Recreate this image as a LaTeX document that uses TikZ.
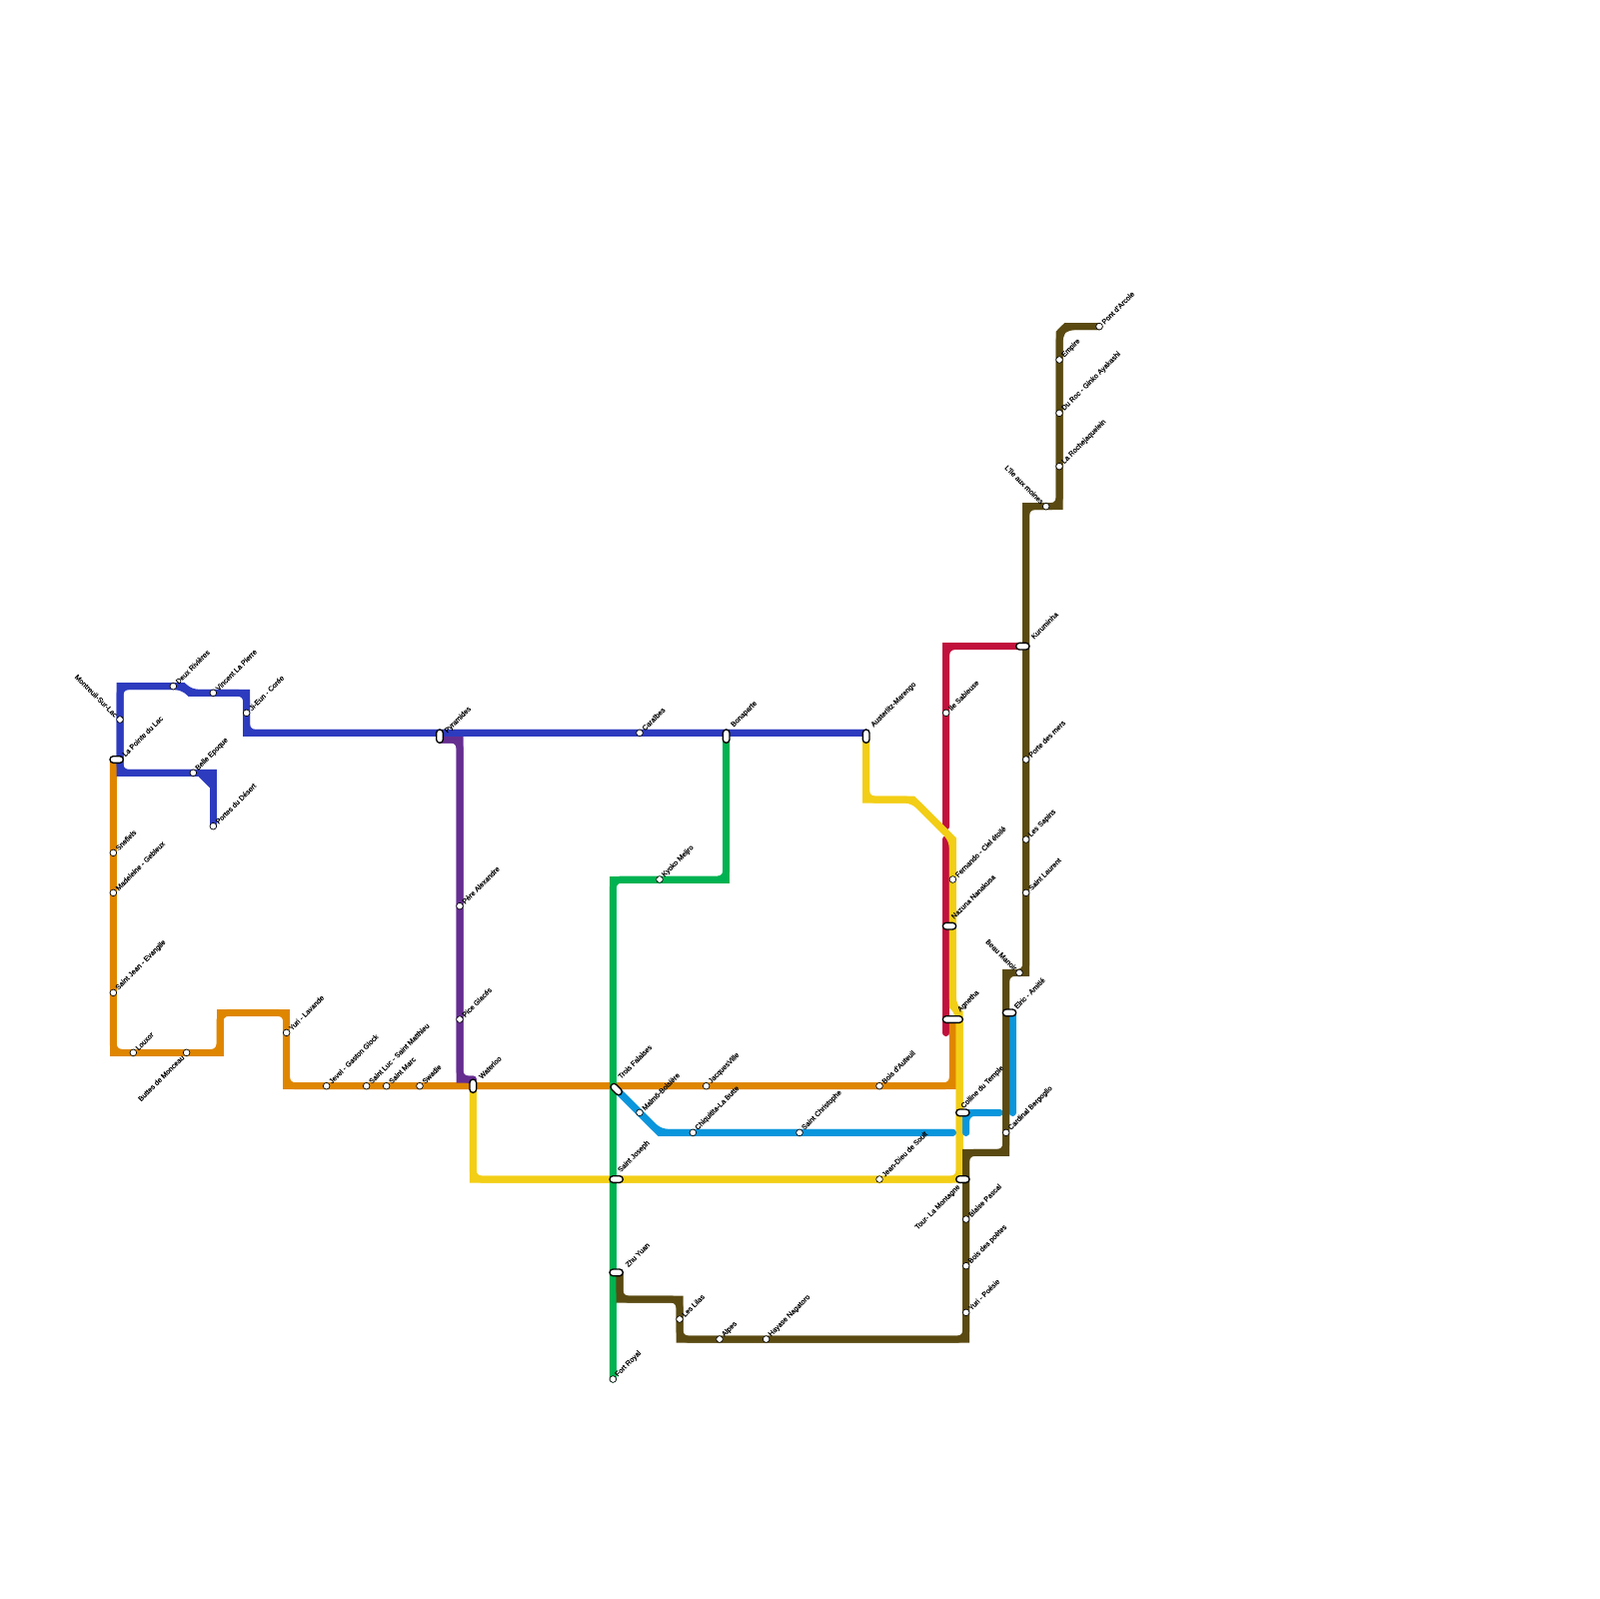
\documentclass[tikz,border=0pt]{standalone}
\usepackage{fontspec}
\setmainfont[FakeBold=0.35]{Liberation Sans}
\usetikzlibrary{backgrounds}
\definecolor{metroorange}{HTML}{DF8600}
\definecolor{metroblue}{HTML}{2D3BBF}
\definecolor{metropurple}{HTML}{662D91}
\definecolor{metrogreen}{HTML}{00B251}
\definecolor{metrobrown}{HTML}{5A4A12}
\definecolor{metroyellow}{HTML}{F3CE16}
\definecolor{metrored}{HTML}{C1103C}
\definecolor{metrocyan}{HTML}{0A96DC}
\newcommand{\metroline}[2]{\draw[metro,#1] #2; \draw[metro,#1,rounded corners=1.25mm] #2;}
\newcommand{\stnNE}[4]{\node[stn] (#1) at (#2,#3) {}; \node[lblNE] (#1L) at ([shift={(0.5,-0.5)}]#1.center) {#4};}
\newcommand{\stnNW}[4]{\node[stn] (#1) at (#2,#3) {}; \node[lblNW] (#1L) at ([shift={(-0.5,-0.5)}]#1.center) {#4};}
\newcommand{\stnSW}[4]{\node[stn] (#1) at (#2,#3) {}; \node[lblSW] (#1L) at ([shift={(-0.5,0.5)}]#1.center) {#4};}
\begin{document}
\begin{tikzpicture}[
  x=1mm,y=-1mm,
  font=\fontsize{3.05pt}{3.6pt}\selectfont,
  metro/.style={line width=1.05mm,line cap=round,line join=miter},
  stn/.style={circle,draw=black,fill=white,line width=0.1mm,minimum size=1mm,inner sep=0pt},
  pill/.style={rectangle,rounded corners=0.5mm,draw=black,fill=white,line width=0.2mm,minimum width=2mm,minimum height=1mm,inner sep=0pt},
  pillV/.style={pill,minimum width=1mm,minimum height=2mm},
  lblNE/.style={rotate=45,anchor=west,inner sep=0pt},
  lblNW/.style={rotate=-45,anchor=east,inner sep=0pt},
  lblSW/.style={rotate=45,anchor=east,inner sep=0pt}
]
\useasboundingbox (0,0) rectangle (240,240);
% blue line
\stnNW{montreuil}{18}{108}{Montreuil-Sur-Lac}
\stnNE{deux}{26}{103}{Deux Rivières}
\stnNE{vincent}{32}{104}{Vincent La Pierre}
\stnNE{jieun}{37}{107}{Ji-Eun - Corée}
\stnNE{belle}{29}{116}{Belle Epoque}
\stnNE{portes}{32}{124}{Portes du Désert}
\stnNE{caraibes}{96}{110}{Caraïbes}
% orange line
\stnNE{snefiels}{17}{128}{Snefiels}
\stnNE{madeleine}{17}{134}{Madeleine - Gebleux}
\stnNE{saintjean}{17}{149}{Saint Jean - Evangile}
\stnNE{louxor}{20}{158}{Louxor}
\stnSW{buttes}{28}{158}{Buttes de Monceau}
\stnNE{yuril}{43}{155}{Yuri - Lavande}
\stnNE{jevel}{49}{163}{Jevel - Gaston Glock}
\stnNE{saintluc}{55}{163}{Saint Luc - Saint Matthieu}
\stnNE{saintmarc}{58}{163}{Saint Marc}
\stnNE{swadie}{63}{163}{Swadie}
\stnNE{jacques}{106}{163}{JacquesVille}
\stnNE{auteuil}{132}{163}{Bois d'Auteuil}
% purple line
\stnNE{pere}{69}{136}{Père Alexandre}
\stnNE{pice}{69}{153}{Pice Glacés}
% green line
\stnNE{kyoko}{99}{132}{Kyoko Meijro}
\stnNE{fort}{92}{207}{Fort Royal}
% cyan line
\stnNE{malmo}{96}{167}{Malmö-Boisière}
\stnNE{chiquitita}{104}{170}{Chiquitita-La Butte}
\stnNE{christophe}{120}{170}{Saint Christophe}
% yellow line
\stnNE{jeandieu}{132}{177}{Jean-Dieu de Soult}
\stnNE{fernando}{143}{132}{Fernando - Ciel étoilé}
% red line
\stnNE{sableuse}{142}{107}{Ile Sableuse}
% brown line
\stnNE{lilas}{102}{198}{Les Lilas}
\stnNE{alpes}{108}{201}{Alpes}
\stnNE{hayase}{115}{201}{Hayase Nagatoro}
\stnNE{poesie}{145}{197}{Yuri - Poésie}
\stnNE{poetes}{145}{190}{Bois des poètes}
\stnNE{blaise}{145}{183}{Blaise Pascal}
\stnNE{cardinal}{151}{170}{Cardinal Bergoglio}
\stnNW{beau}{153}{146}{Beau Manoir}
\stnNE{laurent}{154}{134}{Saint Laurent}
\stnNE{sapins}{154}{126}{Les Sapins}
\stnNE{mers}{154}{114}{Porte des mers}
\stnNW{moines}{157}{76}{L'île aux moines}
\stnNE{roche}{159}{70}{La Rochejaquelein}
\stnNE{duroc}{159}{62}{Du Roc - Ginko Ayakashi}
\stnNE{empire}{159}{54}{Empire}
\stnNE{arcole}{165}{49}{Pont d'Arcole}
% interchanges
\node[pill] (pointe) at (17.5,114) {}; \node[lblNE] (pointeL) at ([shift={(1,-0.6)}]pointe.center) {La Pointe du Lac};
\node[pillV] (pyramides) at (66,110.5) {}; \node[lblNE] (pyramidesL) at ([shift={(0.9,-0.6)}]pyramides.center) {Pyramides};
\node[pillV] (bonaparte) at (109,110.5) {}; \node[lblNE] (bonaparteL) at ([shift={(0.9,-1.5)}]bonaparte.center) {Bonaparte};
\node[pillV] (austerlitz) at (130,110.5) {}; \node[lblNE] (austerlitzL) at ([shift={(0.9,-1.5)}]austerlitz.center) {Austerlitz-Marengo};
\node[pillV] (waterloo) at (71,163) {}; \node[lblNE] (waterlooL) at ([shift={(1,-1.25)}]waterloo.center) {Waterloo};
\node[pill,rotate=-45] (trois) at (92.5,163.5) {}; \node[lblNE] (troisL) at ([shift={(0.4,-1.75)}]trois.center) {Trois Falaises};
\node[pill] (joseph) at (92.5,177) {}; \node[lblNE] (josephL) at ([shift={(0.4,-1.15)}]joseph.center) {Saint Joseph};
\node[pill] (zhu) at (92.5,191) {}; \node[lblNE] (zhuL) at ([shift={(1.5,-1)}]zhu.center) {Zhu Yuan};
\node[pill] (nazuna) at (142.5,139) {}; \node[lblNE] (nazunaL) at ([shift={(0.4,-1.25)}]nazuna.center) {Nazuna Nanakusa};
\node[pill,minimum width=3mm] (agnetha) at (143,153) {}; \node[lblNE] (agnethaL) at ([shift={(0.9,-1.25)}]agnetha.center) {Agnetha};
\node[pill] (colline) at (144.5,167) {}; \node[lblNE] (collineL) at ([shift={(-0.1,-0.75)}]colline.center) {Colline du Temple};
\node[pill] (tour) at (144.5,177) {}; \node[lblSW] (tourL) at ([shift={(-0.5,1)}]tour.center) {Tour- La Montagne};
\node[pill] (elric) at (151.5,152) {}; \node[lblNE] (elricL) at ([shift={(0.85,-0.75)}]elric.center) {Elric - Amitié};
\node[pill] (kurumi) at (153.5,97) {}; \node[lblNE] (kurumiL) at ([shift={(1.4,-1.25)}]kurumi.center) {Kuruminha};
\begin{scope}[on background layer]
% lines, oldest first
\metroline{metrored}{(kurumi.center) -- (142,97) -- (142,124)}
\metroline{metrored}{(142,126) -- (142,155)}
\metroline{metroorange}{(pointe.center) ++(-0.5,0) -- (17,158) -- (33,158) -- (33,152) -- (43,152) -- (43,163) -- (143,163) -- (143,153)}
\metroline{metropurple}{(pyramides.center) ++(0,0.5) -- (69,111) -- (69,162) -- (71,162)}
\metroline{metroyellow}{(austerlitz.center) -- (130,120) -- (137,120) -- (143,126) -- (143,151) -- (144,152) -- (144,177) -- (71,177) -- (waterloo.center)}
\metroline{metroblue}{(belle.center) -- (18,116) -- (18,103) -- (27.5,103) -- (28.5,104) -- (37,104) -- (37,110) -- (austerlitz.center |- 37,110)}
\draw[metro,metroblue,fill=metroblue] (belle.center) -- (32,116) -- (32,118) -- (30,116) -- cycle;
\draw[metro,metroblue] (32,118) -- (portes.center);
\metroline{metrogreen}{(bonaparte.center) -- (109,132) -- (92,132) -- (fort.center)}
\metroline{metrocyan}{(trois.center) -- (99,170) -- (143,170)}
\metroline{metrocyan}{(145,170) -- (145,167) -- (150,167)}
\metroline{metrocyan}{(elric.center) ++(0.5,0) -- (152,167)}
\metroline{metrobrown}{(zhu.center) ++(0.5,0) -- (93,195) -- (102,195) -- (102,201) -- (145,201) -- (145,173) -- (151,173) -- (151,146) -- (154,146) -- (154,76) -- (159,76) -- (159,50) -- (160,49) -- (arcole.center)}
\end{scope}
\end{tikzpicture}
\end{document}
